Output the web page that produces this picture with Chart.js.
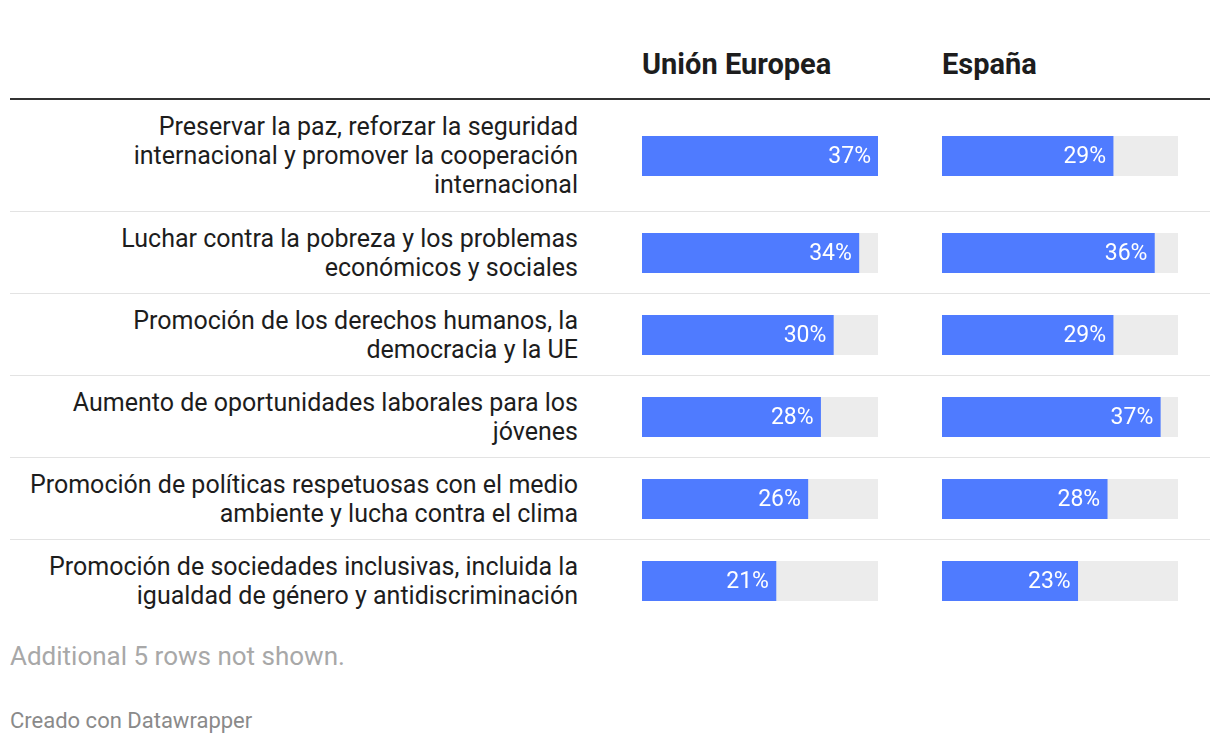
<!DOCTYPE html>
<html>
<head>
<meta charset="utf-8">
<script src="https://cdn.jsdelivr.net/npm/chart.js@4"></script>
<style>
  html, body { margin: 0; padding: 0; background: #fff; }
  body { width: 1220px; height: 746px; position: relative; font-family: Roboto, "Noto Sans", sans-serif; color: #1d1d1d; overflow: hidden; }
  .hdr { position: absolute; top: 44px; font-weight: 700; font-size: 29px; line-height: 40px; color: #1d1d1d; }
  .hline { position: absolute; left: 10px; width: 1200px; top: 98px; height: 2px; background: #333; }
  .row { position: absolute; left: 10px; width: 1200px; }
  .row.sep { border-bottom: 1px solid #e3e3e3; }
  .lbl { position: absolute; left: 0; width: 568px; top: 0; bottom: 0; display: flex; align-items: center; justify-content: flex-end; text-align: right; font-size: 25px; line-height: 29px; color: #1d1d1d; white-space: nowrap; }
  .cell { position: absolute; width: 236px; height: 40px; }
  .note { position: absolute; left: 10px; top: 640px; font-size: 26px; line-height: 32px; color: #a8a8a8; }
  .credit { position: absolute; left: 10px; top: 709px; font-size: 22px; line-height: 24px; color: #8a8a8a; }
</style>
</head>
<body>
<script>
// ---- data ----
const categories = [
  "Preservar la paz, reforzar la seguridad<br>internacional y promover la cooperación<br>internacional",
  "Luchar contra la pobreza y los problemas<br>económicos y sociales",
  "Promoción de los derechos humanos, la<br>democracia y la UE",
  "Aumento de oportunidades laborales para los<br>jóvenes",
  "Promoción de políticas respetuosas con el medio<br>ambiente y lucha contra el clima",
  "Promoción de sociedades inclusivas, incluida la<br>igualdad de género y antidiscriminación"
];
const seriesNames = ["Unión Europea", "España"];
const unionEuropea = [37, 34, 30, 28, 26, 21];
const espana = [29, 36, 29, 37, 28, 23];
const scaleMax = [37, 40];
const noteText = "Additional 5 rows not shown.";
const creditText = "Creado con Datawrapper";

// ---- layout ----
const rowTops = [100, 212, 294, 376, 458, 540];
const rowHeights = [111, 81, 81, 81, 81, 81];
const colX = [642, 942];
const BLUE = "#4f7bff", TRACK = "#ececec";

seriesNames.forEach((n, i) => {
  const d = document.createElement("div");
  d.className = "hdr"; d.style.left = colX[i] + "px"; d.textContent = n;
  document.body.appendChild(d);
});
const hl = document.createElement("div"); hl.className = "hline"; document.body.appendChild(hl);

const valueLabels = {
  id: "valueLabels",
  afterDatasetsDraw(chart) {
    const ctx = chart.ctx;
    const meta = chart.getDatasetMeta(1);
    const v = chart.data.datasets[1].data[0];
    const bar = meta.data[0];
    ctx.save();
    ctx.fillStyle = "#ffffff";
    ctx.font = "23px Roboto, 'Noto Sans', sans-serif";
    ctx.textAlign = "right";
    ctx.textBaseline = "middle";
    ctx.fillText(v + "%", bar.x - 7, bar.y + 1);
    ctx.restore();
  }
};

const series = [unionEuropea, espana];
categories.forEach((c, r) => {
  const row = document.createElement("div");
  row.className = "row" + (r < categories.length - 1 ? " sep" : "");
  row.style.top = rowTops[r] + "px";
  row.style.height = rowHeights[r] + "px";
  const lbl = document.createElement("div");
  lbl.className = "lbl"; lbl.innerHTML = "<div>" + c + "</div>";
  row.appendChild(lbl);
  document.body.appendChild(row);

  series.forEach((vals, s) => {
    const cell = document.createElement("div");
    cell.className = "cell";
    cell.style.left = colX[s] + "px";
    cell.style.top = (rowTops[r] + Math.round((rowHeights[r] - 40) / 2)) + "px";
    const cv = document.createElement("canvas");
    cv.width = 236; cv.height = 40;
    cell.appendChild(cv);
    document.body.appendChild(cell);
    new Chart(cv, {
      type: "bar",
      data: {
        labels: [""],
        datasets: [
          { data: [scaleMax[s]], backgroundColor: TRACK, grouped: false, order: 2, barPercentage: 1, categoryPercentage: 1 },
          { data: [vals[r]], backgroundColor: BLUE, grouped: false, order: 1, barPercentage: 1, categoryPercentage: 1 }
        ]
      },
      options: {
        indexAxis: "y",
        responsive: false,
        maintainAspectRatio: false,
        animation: false,
        layout: { padding: 0 },
        plugins: { legend: { display: false }, tooltip: { enabled: false } },
        scales: {
          x: { display: false, min: 0, max: scaleMax[s] },
          y: { display: false }
        }
      },
      plugins: [valueLabels]
    });
  });
});

const note = document.createElement("div"); note.className = "note"; note.textContent = noteText; document.body.appendChild(note);
const cr = document.createElement("div"); cr.className = "credit"; cr.textContent = creditText; document.body.appendChild(cr);
</script>
</body>
</html>
